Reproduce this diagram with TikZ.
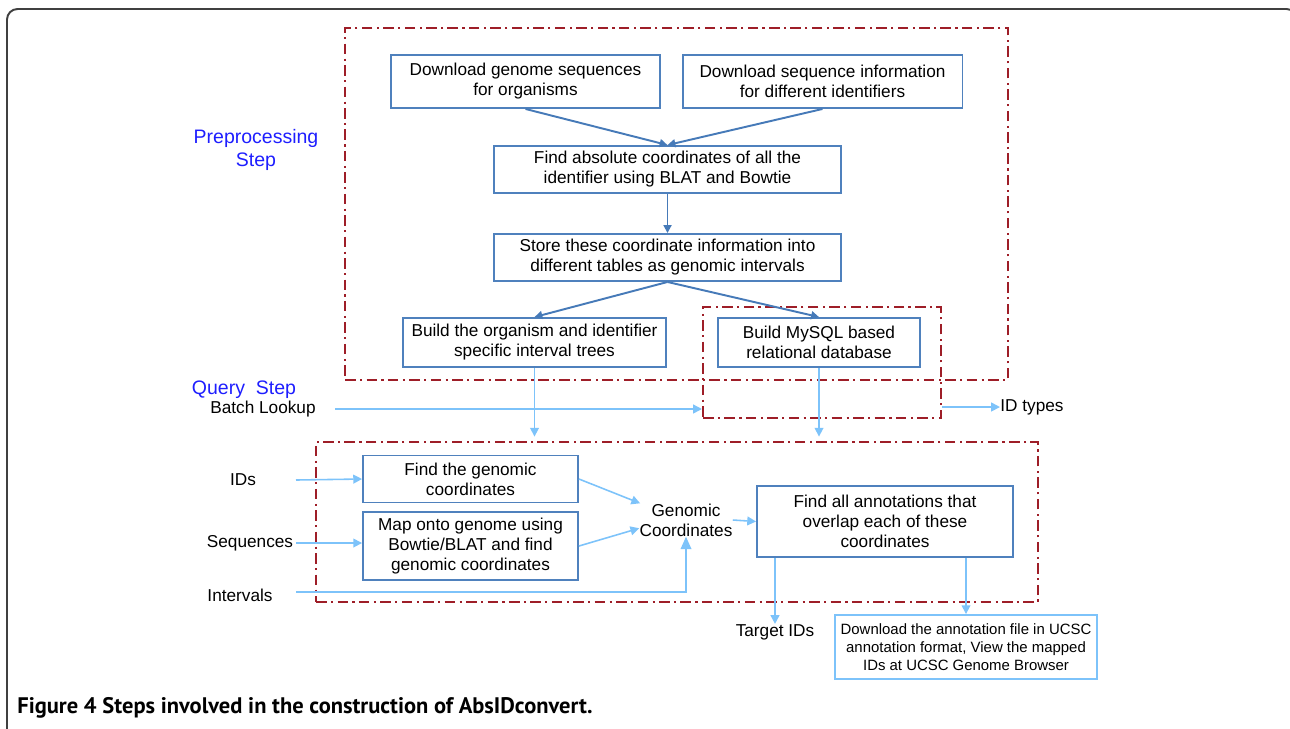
\documentclass[tikz,border=0pt]{standalone}
\usepackage{fontspec}
\setmainfont{Liberation Sans}
\newfontfamily\capfont{PT Sans}
\usetikzlibrary{arrows.meta, positioning, calc}
\definecolor{boxblue}{RGB}{79,129,189}
\definecolor{darkarr}{RGB}{70,122,184}
\definecolor{lightarr}{RGB}{125,195,250}
\definecolor{dashred}{RGB}{158,30,40}
\definecolor{steplabel}{RGB}{30,30,255}
\tikzset{
  pbox/.style={
    rectangle, draw=boxblue, line width=1.1pt,
    align=center, inner sep=0pt,
    font=\fontsize{9.8}{11.4}\selectfont
  },
  obox/.style={
    rectangle, draw=lightarr, line width=1.1pt,
    align=center, inner sep=0pt,
    font=\fontsize{8.5}{10.2}\selectfont
  },
  redframe/.style={
    rectangle, draw=dashred, line width=1.2pt, inner sep=0pt,
    dash pattern=on 6pt off 2.5pt on 1.2pt off 2.5pt
  },
  lbl/.style={align=center, inner sep=0pt, font=\fontsize{9.8}{11.4}\selectfont},
  steplbl/.style={align=center, inner sep=0pt, text=steplabel,
    font=\fontsize{11.1}{13.6}\selectfont},
  arr/.style={-{Triangle[length=4.5pt,width=4.5pt]}, line width=1.1pt, color=darkarr},
  larr/.style={-{Triangle[length=5pt,width=5pt]}, line width=0.9pt, color=lightarr},
}
\begin{document}
\begin{tikzpicture}[x=0.02cm, y=-0.02cm]
  \useasboundingbox (0,0) rectangle (1290,728);
  % outer figure frame
  \draw[line width=1.1pt, color=black!75, rounded corners=6pt] (7,9) rectangle (1297,760);

  % dash-dot groups
  \node[redframe, minimum width=13.26cm, minimum height=7.04cm] (pre) at (676.5,204) {};
  \node[redframe, minimum width=4.76cm, minimum height=2.22cm] (db) at (822,362.5) {};
  \node[redframe, minimum width=14.44cm, minimum height=3.2cm] (qry) at (677,522) {};

  % preprocessing step
  \node[steplbl] (prelbl) at (256,150) {Preprocessing\\Step};
  \node[pbox, minimum width=5.38cm, minimum height=1.06cm] (gen) at (525.5,81.5) {Download genome sequences\\for organisms};
  \node[pbox, minimum width=5.6cm, minimum height=1.06cm] (seq) at (822.5,81.5) {Download sequence information\\for different identifiers};
  \node[pbox, minimum width=6.94cm, minimum height=0.94cm] (abs) at (667.5,169.5) {Find absolute coordinates of all the\\identifier using BLAT and Bowtie};
  \node[pbox, minimum width=6.94cm, minimum height=0.94cm] (store) at (667.5,257.5) {Store these coordinate information into\\different tables as genomic intervals};
  \node[pbox, minimum width=5.26cm, minimum height=0.98cm] (tree) at (534.5,342.5) {Build the organism and identifier\\specific interval trees};
  \node[pbox, minimum width=4.04cm, minimum height=0.98cm] (sql) at (819,342.5) {Build MySQL based\\relational database};

  \draw[arr] (gen.south) -- (abs.north);
  \draw[arr] (seq.south) -- (abs.north);
  \draw[arr] (abs) -- (store);
  \draw[arr] (store.south) -- (tree.north);
  \draw[arr] (store.south) -- (sql.north);

  % query step
  \node[steplbl] (qlbl) at (244,390) {Query\ \ Step};
  \node[lbl] (batch) at (263,409) {Batch Lookup};
  \node[lbl, anchor=west] (idt) at (1000,407) {ID types};
  \node[lbl] (ids) at (243,480) {IDs};
  \node[lbl] (seqs) at (250,543) {Sequences};
  \node[lbl] (ints) at (240,595) {Intervals};
  \coordinate (inx) at (296,0);

  \node[pbox, minimum width=4.3cm, minimum height=0.94cm] (find) at (470.5,479) {Find the genomic\\coordinates};
  \node[pbox, minimum width=4.3cm, minimum height=1.36cm] (map) at (470.5,546) {Map onto genome using\\Bowtie/BLAT and find\\genomic coordinates};
  \node[lbl] (gc) at (686,520) {Genomic\\Coordinates};
  \node[pbox, minimum width=5.12cm, minimum height=1.42cm] (ann) at (885,521.5) {Find all annotations that\\overlap each of these\\coordinates};
  \node[lbl] (tid) at (775,632) {Target IDs};
  \node[obox, minimum width=5.24cm, minimum height=1.28cm] (ucsc) at (966,647) {Download the annotation file in UCSC\\annotation format, View the mapped\\IDs at UCSC Genome Browser};

  \draw[larr, shorten <=11pt] (batch.east) -- (batch.east -| db.west);
  \draw[larr] (db.east |- idt.west) -- (idt.west);
  \draw[larr, shorten >=2.5pt] (tree.south) -- (tree.south |- qry.north);
  \draw[larr, shorten >=2.5pt] (sql.south) -- (sql.south |- qry.north);
  \draw[larr] (ids -| inx) -- (find.west);
  \draw[larr] (seqs -| inx) -- (seqs -| map.west);
  \draw[larr, -{Triangle[length=7pt,width=6pt]}] (inx |- 0,592) -- (gc.south |- 0,592) -- (gc.south);
  \draw[larr] (find.east) -- (gc.160);
  \draw[larr] (map.east) -- (gc.190);
  \draw[larr] (gc.east) -- (ann.west);
  \draw[larr] (tid.north |- ann.south) -- (tid.north);
  \draw[larr] (ucsc.north |- ann.south) -- (ucsc.north);

  % caption
  \node[anchor=west, inner sep=0pt, font=\capfont\bfseries\fontsize{12.8}{14}\selectfont] (cap) at (17,708)
    {Figure 4 Steps involved in the construction of AbsIDconvert.};
\end{tikzpicture}
\end{document}
